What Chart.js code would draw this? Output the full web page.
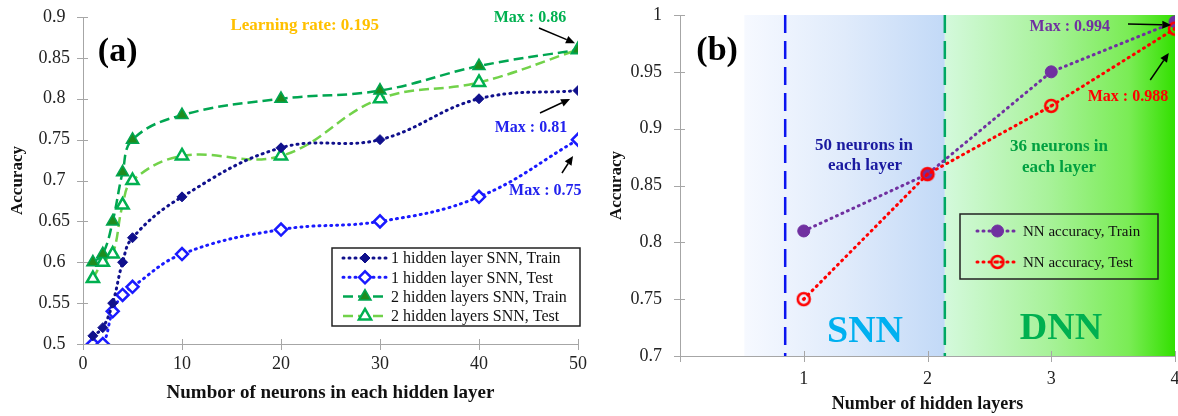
<!DOCTYPE html>
<html>
<head>
<meta charset="utf-8">
<script src="https://cdn.jsdelivr.net/npm/chart.js@4.4.0/dist/chart.umd.min.js"></script>
<style>
  html, body { margin: 0; padding: 0; background: #fff; }
  #wrap { position: relative; width: 1178px; height: 416px; overflow: hidden; }
  canvas { position: absolute; top: 0; }
  #chart-a { left: 0; }
  #chart-b { left: 590px; }
</style>
</head>
<body>
<div id="wrap">
  <canvas id="chart-a" width="590" height="416"></canvas>
  <canvas id="chart-b" width="588" height="416"></canvas>
</div>
<script>
// panel (a) - accuracy vs neurons per hidden layer
const neurons = [1, 2, 3, 4, 5, 10, 20, 30, 40, 50];
const oneLayerTrain = [0.51, 0.52, 0.55, 0.60, 0.63, 0.68, 0.74, 0.75, 0.80, 0.81];
const oneLayerTest = [0.50, 0.50, 0.54, 0.56, 0.57, 0.61, 0.64, 0.65, 0.68, 0.75];
const twoLayerTrain = [0.60, 0.61, 0.65, 0.71, 0.75, 0.78, 0.80, 0.81, 0.84, 0.86];
const twoLayerTest = [0.58, 0.60, 0.61, 0.67, 0.70, 0.73, 0.73, 0.80, 0.82, 0.86];
const labelsA = ['1 hidden layer SNN, Train', '1 hidden layer SNN, Test',
                 '2 hidden layers SNN, Train', '2 hidden layers SNN, Test'];

// panel (b) - accuracy vs number of hidden layers
const hiddenLayers = [1, 2, 3, 4];
const nnTrain = [0.81, 0.86, 0.95, 0.994];
const nnTest = [0.75, 0.86, 0.92, 0.988];
const labelsB = ['NN accuracy, Train', 'NN accuracy, Test'];
const snnBand = [0.52, 2.14];
const dnnBand = [2.14, 4];
const snnLine = 0.85;
const dnnLine = 2.14;

const FONT = "'Liberation Serif', 'Times New Roman', serif";
const AXIS_GRAY = '#a6a6a6';
Chart.defaults.font.family = FONT;
Chart.defaults.color = '#222';

function toPoints(xs, ys) {
    return xs.map((x, i) => ({ x: x, y: ys[i] }));
}

function fmtTick(v) {
    return String(+v.toFixed(2));
}

// red ring with a dot in the middle
function ringDot(color, r) {
    const c = document.createElement('canvas');
    const s = 2 * r + 4;
    c.width = s; c.height = s;
    const g = c.getContext('2d');
    g.strokeStyle = color;
    g.lineWidth = 2.5;
    g.beginPath(); g.arc(s / 2, s / 2, r, 0, Math.PI * 2); g.stroke();
    g.fillStyle = color;
    g.beginPath(); g.arc(s / 2, s / 2, 1.7, 0, Math.PI * 2); g.fill();
    return c;
}

function drawMarker(ctx, ds, x, y) {
    ctx.save();
    ctx.fillStyle = ds.pointBackgroundColor;
    ctx.strokeStyle = ds.pointBorderColor;
    ctx.lineWidth = ds.pointBorderWidth;
    ctx.setLineDash([]);
    Chart.helpers.drawPoint(ctx, {
        pointStyle: ds.pointStyle, radius: ds.pointRadius,
        borderWidth: ds.pointBorderWidth, rotation: 0
    }, x, y);
    ctx.restore();
}

function drawArrow(ctx, x0, y0, x1, y1) {
    const ang = Math.atan2(y1 - y0, x1 - x0);
    const len = 9, half = 4;
    ctx.strokeStyle = '#000';
    ctx.fillStyle = '#000';
    ctx.lineWidth = 1.5;
    ctx.beginPath();
    ctx.moveTo(x0, y0);
    ctx.lineTo(x1 - Math.cos(ang) * len, y1 - Math.sin(ang) * len);
    ctx.stroke();
    ctx.beginPath();
    ctx.moveTo(x1, y1);
    ctx.lineTo(x1 - Math.cos(ang) * len - Math.sin(ang) * half, y1 - Math.sin(ang) * len + Math.cos(ang) * half);
    ctx.lineTo(x1 - Math.cos(ang) * len + Math.sin(ang) * half, y1 - Math.sin(ang) * len - Math.cos(ang) * half);
    ctx.closePath();
    ctx.fill();
}

const decorPlugin = {
    id: 'decor',
    beforeDraw(chart, args, opts) {
        const { ctx, chartArea: a, scales: { x } } = chart;
        (opts.bands || []).forEach(b => {
            const x0 = x.getPixelForValue(b.from);
            const x1 = x.getPixelForValue(b.to);
            const g = ctx.createLinearGradient(x0, 0, x1, 0);
            b.stops.forEach(s => g.addColorStop(s[0], s[1]));
            ctx.fillStyle = g;
            ctx.fillRect(x0, a.top, x1 - x0, a.bottom - a.top);
        });
    },
    beforeDatasetsDraw(chart, args, opts) {
        const { ctx, chartArea: a, scales: { x, y } } = chart;
        // tick marks crossing the axis lines
        ctx.save();
        ctx.strokeStyle = AXIS_GRAY;
        ctx.lineWidth = 1;
        ctx.beginPath();
        x.ticks.forEach(t => {
            const px = Math.round(x.getPixelForValue(t.value)) + 0.5;
            ctx.moveTo(px, a.bottom - 5);
            ctx.lineTo(px, a.bottom + 6);
        });
        y.ticks.forEach(t => {
            const py = Math.round(y.getPixelForValue(t.value)) + 0.5;
            ctx.moveTo(a.left - 6, py);
            ctx.lineTo(a.left + 5, py);
        });
        ctx.stroke();
        ctx.restore();

        (opts.vlines || []).forEach(v => {
            const px = x.getPixelForValue(v.at);
            ctx.save();
            ctx.strokeStyle = v.color;
            ctx.lineWidth = 2.5;
            ctx.setLineDash([18, 8]);
            ctx.beginPath();
            ctx.moveTo(px, a.top);
            ctx.lineTo(px, a.bottom);
            ctx.stroke();
            ctx.restore();
        });
    },
    afterDatasetsDraw(chart, args, opts) {
        const { ctx, scales: { x, y } } = chart;
        ctx.save();
        ctx.textAlign = 'center';
        ctx.textBaseline = 'middle';
        (opts.notes || []).forEach(n => {
            ctx.font = (n.bold ? 'bold ' : '') + n.size + 'px ' + FONT;
            ctx.fillStyle = n.color;
            ctx.fillText(n.text, x.getPixelForValue(n.x), y.getPixelForValue(n.y));
        });
        (opts.arrows || []).forEach(ar => {
            drawArrow(ctx, x.getPixelForValue(ar[0]), y.getPixelForValue(ar[1]),
                      x.getPixelForValue(ar[2]), y.getPixelForValue(ar[3]));
        });
        ctx.restore();

        const lg = opts.legend;
        if (!lg) return;
        ctx.save();
        if (lg.fill) {
            ctx.fillStyle = lg.fill;
            ctx.fillRect(lg.left, lg.top, lg.width, lg.height);
        }
        ctx.strokeStyle = '#222';
        ctx.lineWidth = 1.5;
        ctx.strokeRect(lg.left, lg.top, lg.width, lg.height);
        ctx.font = lg.size + 'px ' + FONT;
        ctx.textAlign = 'left';
        ctx.textBaseline = 'middle';
        chart.data.datasets.forEach((ds, i) => {
            const yy = lg.top + lg.first + i * lg.step;
            ctx.save();
            ctx.strokeStyle = ds.borderColor;
            ctx.lineWidth = ds.borderWidth;
            ctx.lineCap = ds.borderCapStyle || 'butt';
            ctx.setLineDash(ds.borderDash || []);
            ctx.beginPath();
            ctx.moveTo(lg.lineFrom, yy);
            ctx.lineTo(lg.lineTo, yy);
            ctx.stroke();
            ctx.restore();
            drawMarker(ctx, ds, (lg.lineFrom + lg.lineTo) / 2, yy);
            ctx.fillStyle = '#111';
            ctx.fillText(ds.label, lg.textX, yy + 1);
        });
        ctx.restore();
    }
};

// tick marks are drawn by the plugin, the grid tick only reserves room for labels
function axisStyle(tickRoom, extra) {
    return Object.assign({
        type: 'linear',
        border: { color: AXIS_GRAY, width: 1 },
        grid: { display: true, drawOnChartArea: false, drawTicks: true,
                tickLength: tickRoom, tickColor: 'rgba(0,0,0,0)' }
    }, extra);
}

const dotted = { borderDash: [1, 5], borderCapStyle: 'round', borderWidth: 3 };
const dashed = { borderDash: [10, 5], borderCapStyle: 'butt', borderWidth: 2.5 };

new Chart(document.getElementById('chart-a'), {
    type: 'line',
    data: {
        datasets: [
            Object.assign({
                label: labelsA[0], data: toPoints(neurons, oneLayerTrain),
                borderColor: '#10108c', pointStyle: 'rectRot', pointRadius: 5,
                pointBackgroundColor: '#10108c', pointBorderColor: '#10108c', pointBorderWidth: 1
            }, dotted),
            Object.assign({
                label: labelsA[1], data: toPoints(neurons, oneLayerTest),
                borderColor: '#1a1aff', pointStyle: 'rectRot', pointRadius: 6,
                pointBackgroundColor: '#ffffff', pointBorderColor: '#1a1aff', pointBorderWidth: 2.5
            }, dotted),
            Object.assign({
                label: labelsA[2], data: toPoints(neurons, twoLayerTrain),
                borderColor: '#00a651', pointStyle: 'triangle', pointRadius: 7,
                pointBackgroundColor: '#1e8c1e', pointBorderColor: '#00a651', pointBorderWidth: 1.5
            }, dashed),
            Object.assign({
                label: labelsA[3], data: toPoints(neurons, twoLayerTest),
                borderColor: '#72d24a', pointStyle: 'triangle', pointRadius: 7,
                pointBackgroundColor: '#ffffff', pointBorderColor: '#00b050', pointBorderWidth: 2.5
            }, dashed)
        ]
    },
    options: {
        responsive: false,
        animation: false,
        devicePixelRatio: 1,
        layout: { autoPadding: false, padding: { left: 0, top: 17, right: 12, bottom: 0 } },
        elements: { line: { tension: 0.4 } },
        plugins: {
            legend: { display: false },
            tooltip: { enabled: false },
            decor: {
                notes: [
                    { text: '(a)', x: 3.5, y: 0.857, size: 34, bold: true, color: '#000' },
                    { text: 'Learning rate: 0.195', x: 22.4, y: 0.889, size: 17, bold: true, color: '#ffc000' },
                    { text: 'Max : 0.86', x: 45.15, y: 0.899, size: 16, bold: true, color: '#00b050' },
                    { text: 'Max : 0.81', x: 45.25, y: 0.765, size: 16, bold: true, color: '#2222ee' },
                    { text: 'Max : 0.75', x: 46.7, y: 0.687, size: 16, bold: true, color: '#2222ee' }
                ],
                arrows: [
                    [46.06, 0.8865, 49.7, 0.868],
                    [46.16, 0.7826, 49.2, 0.7997],
                    [48.38, 0.7092, 49.5, 0.73]
                ],
                legend: {
                    left: 332, top: 248, width: 248, height: 78, fill: '#ffffff',
                    first: 10, step: 19.3, lineFrom: 343, lineTo: 387, textX: 391, size: 16
                }
            }
        },
        scales: {
            x: axisStyle(6, {
                min: 0, max: 50,
                afterFit: s => { s.height = 72; },
                ticks: { stepSize: 10, padding: 3, font: { size: 18 }, color: '#222' },
                title: { display: true, text: 'Numbor of neurons in each hidden layer',
                         font: { size: 19, weight: 'bold' }, color: '#111', padding: { top: 0, bottom: 12 } }
            }),
            y: axisStyle(7, {
                min: 0.5, max: 0.9,
                afterFit: s => { s.width = 83; },
                ticks: { stepSize: 0.05, padding: 6, crossAlign: 'center', font: { size: 18 }, color: '#222',
                         callback: v => fmtTick(v) },
                title: { display: true, text: 'Accuracy', font: { size: 17, weight: 'bold' },
                         color: '#111', padding: { top: 7, bottom: 0 } }
            })
        }
    },
    plugins: [decorPlugin]
});

new Chart(document.getElementById('chart-b'), {
    type: 'line',
    data: {
        datasets: [
            Object.assign({
                label: labelsB[0], data: toPoints(hiddenLayers, nnTrain), order: 1,
                borderColor: '#7030a0', pointStyle: 'circle', pointRadius: 6,
                pointBackgroundColor: '#7030a0', pointBorderColor: '#7030a0', pointBorderWidth: 1
            }, dotted),
            Object.assign({
                label: labelsB[1], data: toPoints(hiddenLayers, nnTest), order: 0,
                borderColor: '#ff0000', pointStyle: ringDot('#ff0000', 6), pointRadius: 6,
                pointBackgroundColor: '#ff0000', pointBorderColor: '#ff0000', pointBorderWidth: 2.5
            }, dotted)
        ]
    },
    options: {
        responsive: false,
        animation: false,
        devicePixelRatio: 1,
        layout: { autoPadding: false, padding: { left: 0, top: 15, right: 3, bottom: 0 } },
        elements: { line: { tension: 0 } },
        plugins: {
            legend: { display: false },
            tooltip: { enabled: false },
            decor: {
                bands: [
                    { from: snnBand[0], to: snnBand[1],
                      stops: [[0, '#f6f9ff'], [0.5, '#e0ebfb'], [1, '#c2d9f7']] },
                    { from: dnnBand[0], to: dnnBand[1],
                      stops: [[0, '#d4f9dc'], [0.45, '#a8f29a'], [0.8, '#7aec55'], [1, '#33e000']] }
                ],
                vlines: [
                    { at: snnLine, color: '#0a14f0' },
                    { at: dnnLine, color: '#00a864' }
                ],
                notes: [
                    { text: '(b)', x: 0.30, y: 0.968, size: 34, bold: true, color: '#000' },
                    { text: 'Max : 0.994', x: 3.15, y: 0.9894, size: 16, bold: true, color: '#7030a0' },
                    { text: 'Max : 0.988', x: 3.62, y: 0.9279, size: 16, bold: true, color: '#ff0000' },
                    { text: '50 neurons in', x: 1.487, y: 0.8848, size: 17, bold: true, color: '#1a1aa0' },
                    { text: 'each layer', x: 1.495, y: 0.8672, size: 17, bold: true, color: '#1a1aa0' },
                    { text: '36 neurons in', x: 3.063, y: 0.8839, size: 17, bold: true, color: '#00a040' },
                    { text: 'each layer', x: 3.063, y: 0.8654, size: 17, bold: true, color: '#00a040' },
                    { text: 'SNN', x: 1.495, y: 0.7211, size: 38, bold: true, color: '#00b0f0' },
                    { text: 'DNN', x: 3.079, y: 0.7238, size: 38, bold: true, color: '#00b050' }
                ],
                arrows: [
                    [3.62, 0.9921, 3.97, 0.9912],
                    [3.80, 0.9428, 3.95, 0.9666]
                ],
                legend: {
                    left: 370, top: 214, width: 198, height: 65, fill: null,
                    first: 17, step: 31, lineFrom: 387, lineTo: 428, textX: 433, size: 15
                }
            }
        },
        scales: {
            x: axisStyle(14, {
                min: 0, max: 4,
                afterFit: s => { s.height = 60; },
                ticks: { stepSize: 1, padding: -2, font: { size: 18 }, color: '#222',
                         callback: v => (v === 0 ? '' : String(v)) },
                title: { display: true, text: 'Number of hidden layers',
                         font: { size: 18, weight: 'bold' }, color: '#111', padding: { top: 0, bottom: 1 } }
            }),
            y: axisStyle(14, {
                min: 0.7, max: 1,
                afterFit: s => { s.width = 90; },
                ticks: { stepSize: 0.05, padding: 4, font: { size: 18 }, color: '#222',
                         callback: v => fmtTick(v) },
                title: { display: true, text: 'Accuracy', font: { size: 17, weight: 'bold' },
                         color: '#111', padding: { top: 16, bottom: 0 } }
            })
        }
    },
    plugins: [decorPlugin]
});
</script>
</body>
</html>
